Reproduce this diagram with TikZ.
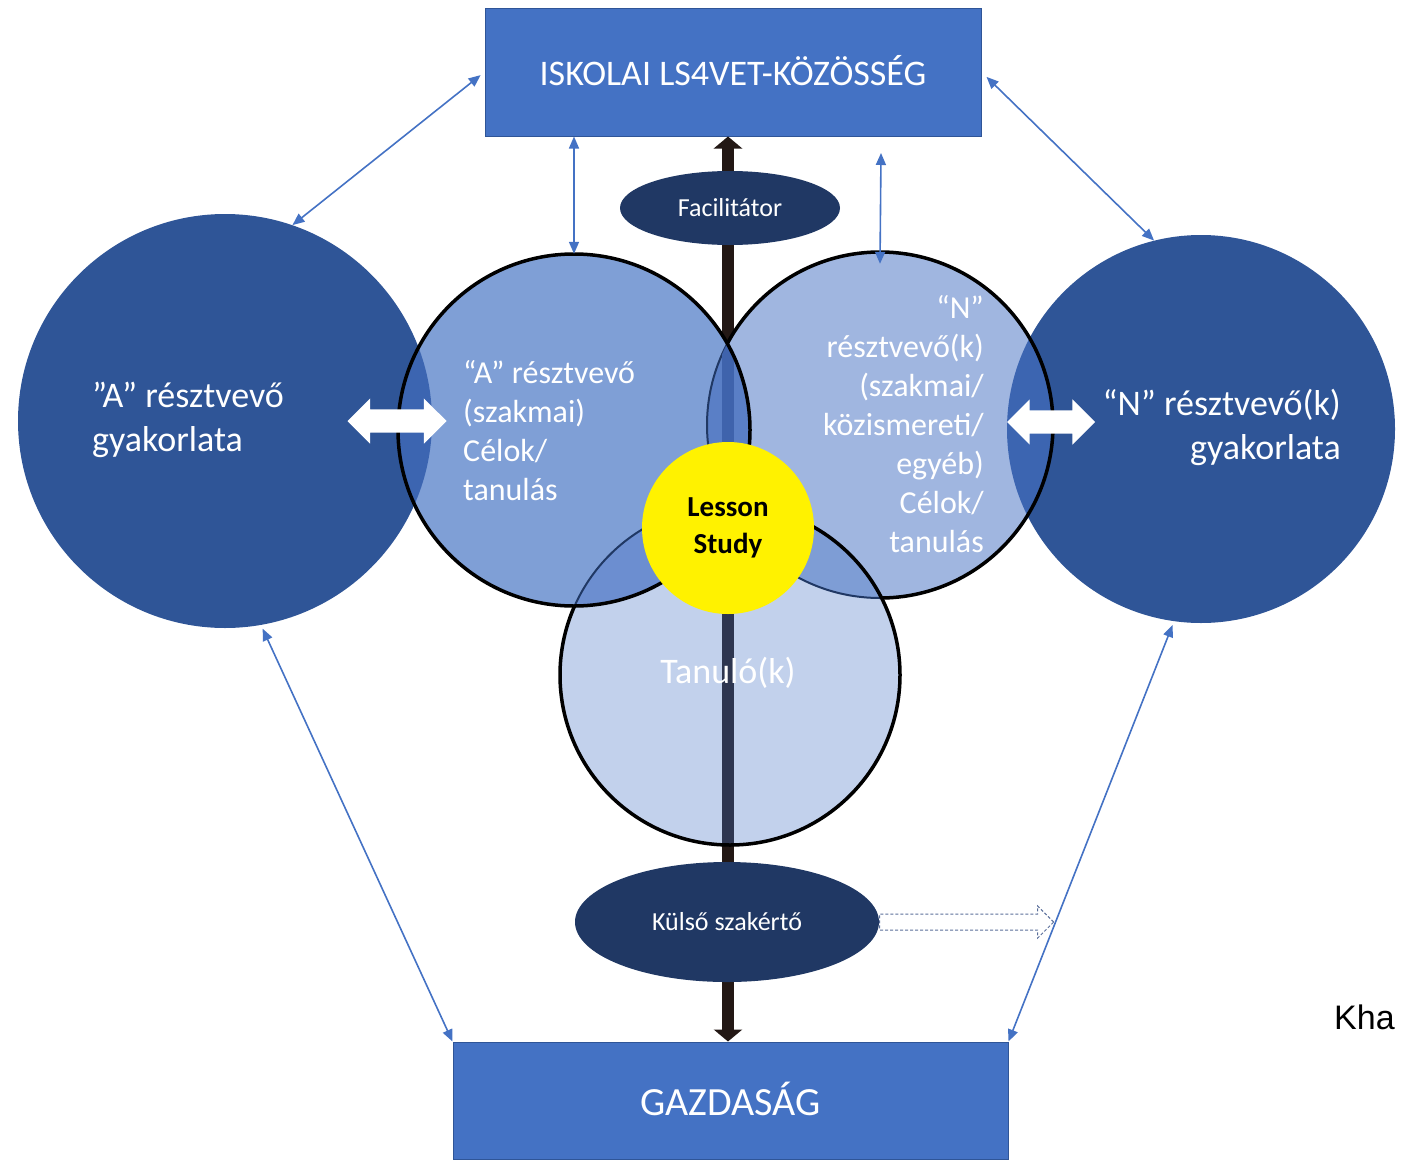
\documentclass[tikz,border=0pt]{standalone}
\usepackage{fontspec}
\setmainfont{Carlito}
\newfontfamily\notefont{Liberation Sans}
\usetikzlibrary{arrows.meta,shapes.geometric,shapes.arrows}

\definecolor{boxblue}{HTML}{4472C4}
\definecolor{darkblue}{HTML}{2F5597}
\definecolor{navy}{HTML}{203864}
\definecolor{fillA}{HTML}{7F9FD6}
\definecolor{fillN}{HTML}{A0B6E0}
\definecolor{fillT}{HTML}{C2D1EC}
\definecolor{lensside}{HTML}{3C65B1}
\definecolor{lensAN}{HTML}{5A7FC6}
\definecolor{lensAT}{HTML}{6C8ED0}
\definecolor{lensNT}{HTML}{7E9DD5}
\definecolor{spinecol}{HTML}{231815}
\definecolor{spinenavy}{HTML}{2E3650}
\definecolor{spineblue}{HTML}{3F63AC}
\definecolor{hollowcol}{HTML}{5A6E9A}

\begin{document}
\begin{tikzpicture}[x=1pt,y=-1pt,
  box/.style={rectangle, fill=boxblue, draw=darkblue, line width=1pt, text=white, inner sep=0pt},
  world/.style={circle, fill=darkblue, inner sep=0pt},
  goal/.style={circle, inner sep=0pt},
  role/.style={ellipse, fill=navy, text=white, inner sep=0pt, font=\fontsize{26}{30}\selectfont},
  label/.style={text=white, inner sep=0pt},
  rim/.style={line width=3.5pt, draw=black},
  seam/.style={line width=2pt, draw=navy},
  link/.style={draw=boxblue, line width=1.6pt, {Triangle[length=12pt,width=10pt]}-{Triangle[length=12pt,width=10pt]}},
  spine/.style={line width=12pt, draw=spinecol, {Triangle[width=28pt,length=12pt]}-{Triangle[width=28pt,length=12pt]}},
  swap/.style={double arrow, fill=white, inner xsep=0pt, inner ysep=11.5pt, double arrow head extend=11pt}]
  \useasboundingbox (0,0) rectangle (1402,1159);

  \coordinate (axis) at (728,528);
  \node[box, minimum width=496pt, minimum height=128pt, font=\fontsize{36}{40}\selectfont] (school) at (733,72) {\raisebox{3pt}{ISKOLAI LS4VET-KÖZÖSSÉG}};
  \node[box, minimum width=555pt, minimum height=117pt, font=\fontsize{40}{40}\selectfont] (economy) at (730.5,1100.5) {\raisebox{4pt}{GAZDASÁG}};

  \draw[spine] (economy.north -| axis) -- (school.south -| axis);

  \node[world, minimum size=414pt] (bigL) at (225,421) {};
  \node[world, minimum size=388pt] (bigR) at (1201,429) {};

  \node[goal, fill=fillN, minimum size=346pt] (partN) at (880,425) {};
  \begin{scope}
    \clip (partN.center) circle[radius=173pt];
    \fill[lensside] (bigR.center) circle[radius=194pt];
  \end{scope}
  \draw[rim] (partN.center) circle[radius=173pt];

  \node[goal, fill=fillT, minimum size=340pt] (learner) at (730,675) {};
  \begin{scope}
    \clip (learner.center) circle[radius=170pt];
    \fill[lensNT] (partN.center) circle[radius=173pt];
    \draw[seam] (partN.center) circle[radius=173pt];
    \draw[line width=12pt, spinenavy] (axis |- learner.north) -- (axis |- learner.south);
  \end{scope}
  \draw[rim] (learner.center) circle[radius=170pt];

  \node[goal, fill=fillA, minimum size=352pt] (partA) at (574,430) {};
  \begin{scope}
    \clip (partA.center) circle[radius=176pt];
    \fill[lensside] (bigL.center) circle[radius=207pt];
    \fill[lensAN] (partN.center) circle[radius=173pt];
    \fill[lensAT] (learner.center) circle[radius=170pt];
    \draw[seam] (partN.center) circle[radius=173pt];
    \draw[seam] (learner.center) circle[radius=170pt];
    \clip (partN.center) circle[radius=173pt];
    \draw[line width=12pt, spineblue] (axis |- partA.north) -- (axis |- learner.north);
  \end{scope}
  \draw[rim] (partA.center) circle[radius=176pt];

  \node[goal, fill=yellow, minimum size=172pt, align=center, font=\bfseries\fontsize{29}{37}\selectfont] (lsy) at (axis) {Lesson\\Study};

  \node[role, minimum width=220pt, minimum height=74pt] (facil) at (730,208) {Facilitátor};
  \node[role, minimum width=304pt, minimum height=120pt] (expert) at (727,922) {Külső szakértő};

  \node[label, anchor=west, align=left, font=\fontsize{36}{44}\selectfont] (bigLtxt) at (92,420) {”A” résztvevő\\gyakorlata};
  \node[label, anchor=east, align=right, font=\fontsize{36}{44}\selectfont] (bigRtxt) at (1341,427) {“N” résztvevő(k)\\gyakorlata};
  \node[label, anchor=west, align=left, font=\fontsize{32}{39}\selectfont] (partAtxt) at (463,431) {“A” résztvevő\\(szakmai)\\Célok/\\tanulás};
  \node[label, anchor=east, align=right, font=\fontsize{32}{39}\selectfont] (partNtxt) at (984,424) {“N”\\résztvevő(k)\\(szakmai/\\közismereti/\\egyéb)\\Célok/\\tanulás};
  \node[label, font=\fontsize{36}{40}\selectfont] (learnertxt) at (728,673) {Tanuló(k)};

  \node[swap, minimum height=99pt] (swapA) at (397,421) {};
  \node[swap, minimum height=88pt] (swapN) at (1051,422) {};

  \coordinate (nTop) at (881,153);
  \draw[link, shorten <=5pt] (school.west) -- (bigL.71);
  \draw[link, shorten <=7pt] (school.east) -- (bigR.104);
  \draw[link] (school.south -| partA) -- (partA.north);
  \draw[link] (nTop) -- ([yshift=-12pt]partN.north);
  \draw[link, shorten <=4pt] (bigL.-80) -- (economy.north west);
  \draw[link, shorten <=4pt] (bigR.-98) -- (economy.north east);

  \node[single arrow, draw=hollowcol, densely dashed, line width=1pt, inner xsep=0pt, inner ysep=7.5pt, minimum height=174pt, single arrow head extend=8pt, anchor=tail] (handoff) at (expert.east) {};

  \node[anchor=west, inner sep=0pt, font=\notefont\fontsize{34}{40}\selectfont] (note) at (1334,1017) {Kha};
\end{tikzpicture}
\end{document}
